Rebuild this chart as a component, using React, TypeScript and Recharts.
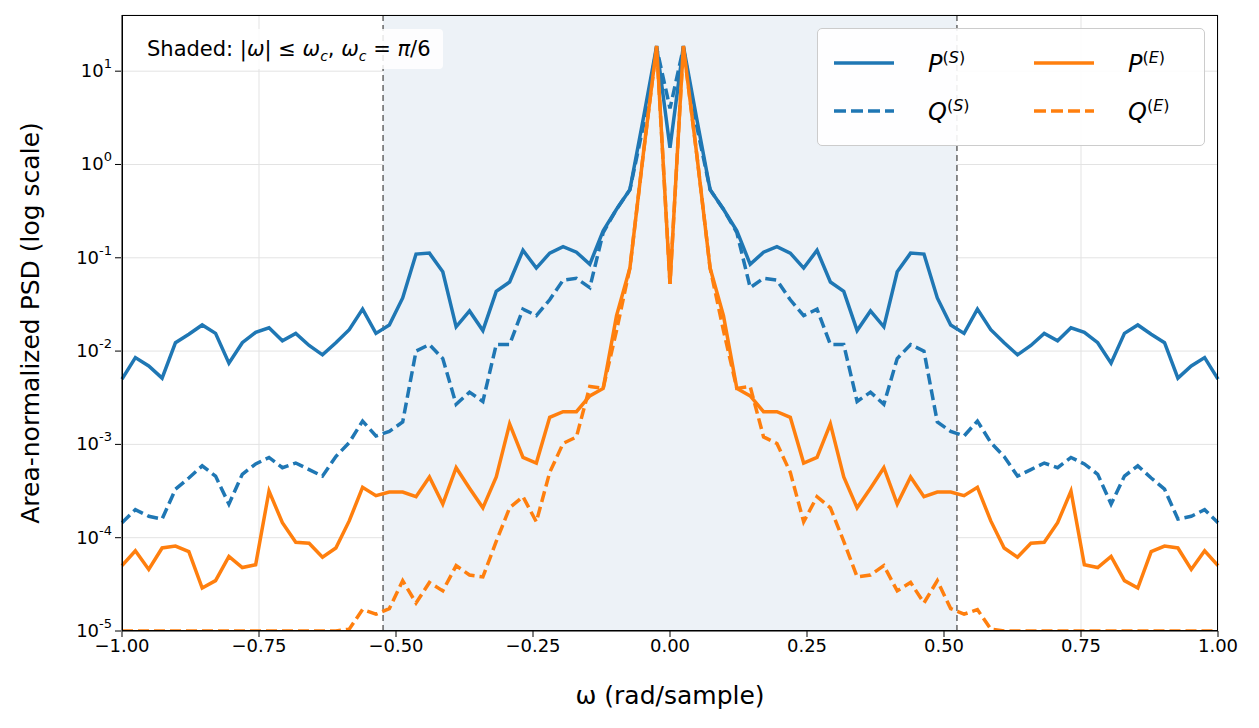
import React from "react";
import {
  LineChart,
  Line,
  XAxis,
  YAxis,
  CartesianGrid,
  ReferenceArea,
  ReferenceLine,
} from "recharts";

// log10 values, left half incl. centre (omega = -1 ... 0), spectrum is symmetric
const pS = [-2.3, -2.07, -2.16, -2.29, -1.91, -1.82, -1.72, -1.81, -2.13, -1.91, -1.8, -1.75, -1.89, -1.81, -1.94, -2.04, -1.91, -1.77, -1.55, -1.81, -1.72, -1.43, -0.96, -0.95, -1.15, -1.74, -1.57, -1.78, -1.36, -1.26, -0.92, -1.11, -0.95, -0.88, -0.94, -1.07, -0.71, -0.48, -0.27, 0.49, 1.27, 0.18];
const qS = [-3.84, -3.7, -3.77, -3.8, -3.48, -3.36, -3.23, -3.34, -3.64, -3.32, -3.21, -3.14, -3.25, -3.2, -3.27, -3.34, -3.13, -2.98, -2.75, -2.91, -2.86, -2.76, -2.0, -1.93, -2.08, -2.57, -2.44, -2.54, -1.93, -1.93, -1.55, -1.62, -1.45, -1.24, -1.22, -1.32, -0.73, -0.48, -0.27, 0.41, 1.25, 0.6];
const pE = [-4.3, -4.14, -4.34, -4.11, -4.09, -4.15, -4.54, -4.46, -4.2, -4.32, -4.29, -3.5, -3.84, -4.05, -4.06, -4.21, -4.11, -3.82, -3.46, -3.55, -3.51, -3.51, -3.56, -3.35, -3.64, -3.25, -3.47, -3.68, -3.35, -2.78, -3.14, -3.2, -2.71, -2.65, -2.65, -2.48, -2.4, -1.62, -1.11, 0.11, 1.27, -1.28];
const qE = [-5, -5, -5, -5, -5, -5, -5, -5, -5, -5, -5, -5, -5, -5, -5, -5, -5, -4.98, -4.77, -4.82, -4.76, -4.46, -4.7, -4.48, -4.57, -4.3, -4.4, -4.42, -4.04, -3.68, -3.56, -3.83, -3.3, -2.99, -2.92, -2.38, -2.4, -1.78, -1.11, 0.11, 1.27, -1.28];

const xTicks = [-1, -0.75, -0.5, -0.25, 0, 0.25, 0.5, 0.75, 1];
const yTicks = [1e-5, 1e-4, 1e-3, 1e-2, 1e-1, 1, 10];
const cutoff = 0.5236; // pi/6

const full = (a: number[]) => [...a, ...a.slice(0, -1).reverse()];
const N = 83;
const data = Array.from({ length: N }, (_, i) => ({
  w: -1 + (2 * i) / (N - 1),
  pS: 10 ** full(pS)[i],
  qS: 10 ** full(qS)[i],
  pE: 10 ** full(pE)[i],
  qE: 10 ** full(qE)[i],
}));

const BLUE = "#1f77b4";
const ORANGE = "#ff7f0e";
const FONT = "DejaVu Sans, sans-serif";

const YTick = ({ x, y, payload }: any) => {
  const e = Math.round(Math.log10(payload.value));
  return (
    <g>
      <line x1={x + 1} x2={x + 7} y1={y} y2={y} stroke="#000" />
      <text x={x - 2} y={y + 6} textAnchor="end" fontSize={18} fontFamily={FONT} fill="#000">
        10
        <tspan dy={-9} fontSize={13}>{e}</tspan>
      </text>
    </g>
  );
};

const fmtX = (v: number) => v.toFixed(2).replace("-", "\u2212");

const LegendItem = ({ color, dash, main, sup }: any) => (
  <div style={{ display: "flex", alignItems: "center", height: 44 }}>
    <svg width={60} height={10}>
      <line x1={0} x2={60} y1={5} y2={5} stroke={color} strokeWidth={3.5} strokeDasharray={dash ? "12 5" : undefined} />
    </svg>
    <span style={{ marginLeft: 34, fontSize: 24, fontFamily: FONT }}>
      <i>{main}</i>
      <sup style={{ fontSize: 16 }}>(<i>{sup}</i>)</sup>
    </span>
  </div>
);

export default function App() {
  return (
    <div style={{ position: "relative", width: 1259, height: 728, margin: -8, background: "#fff", fontFamily: FONT }}>
      <LineChart width={1259} height={728} data={data} margin={{ top: 15, right: 41, left: 0, bottom: 0 }}>
        <CartesianGrid stroke="#e3e3e3" strokeWidth={1} />
        <ReferenceArea x1={-cutoff} x2={cutoff} fill="#edf2f7" fillOpacity={1} stroke="none" />
        <XAxis
          dataKey="w"
          type="number"
          domain={[-1, 1]}
          ticks={xTicks}
          tickFormatter={fmtX}
          height={97}
          tick={{ fontSize: 18, fill: "#000", fontFamily: FONT }}
          tickSize={6}
          stroke="#000"
          label={{ value: "\u03c9 (rad/sample)", position: "insideBottom", offset: 24, fontSize: 25, fill: "#000", fontFamily: FONT }}
        />
        <YAxis
          scale="log"
          domain={[1e-5, 40]}
          ticks={yTicks}
          allowDataOverflow
          width={122}
          tick={<YTick />}
          tickLine={false}
          stroke="#000"
        />
        <ReferenceLine x={-cutoff} stroke="#666" strokeDasharray="6 4" strokeWidth={1.5} />
        <ReferenceLine x={cutoff} stroke="#666" strokeDasharray="6 4" strokeWidth={1.5} />
        <Line dataKey="qS" stroke={BLUE} strokeWidth={3.5} strokeDasharray="11 5" dot={false} isAnimationActive={false} />
        <Line dataKey="qE" stroke={ORANGE} strokeWidth={3.5} strokeDasharray="11 5" dot={false} isAnimationActive={false} />
        <Line dataKey="pS" stroke={BLUE} strokeWidth={3.5} dot={false} isAnimationActive={false} />
        <Line dataKey="pE" stroke={ORANGE} strokeWidth={3.5} dot={false} isAnimationActive={false} />
      </LineChart>
      <div style={{ position: "absolute", left: 30, top: 323, transform: "translate(-50%, -50%) rotate(-90deg)", fontSize: 25, whiteSpace: "nowrap" }}>
        Area-normalized PSD (log scale)
      </div>
      <div style={{ position: "absolute", left: 122, top: 15, width: 1096, height: 616, border: "1.3px solid #000", boxSizing: "border-box", pointerEvents: "none" }} />
      <div style={{ position: "absolute", left: 135, top: 29, height: 40, padding: "0 12px", background: "rgba(255,255,255,0.85)", borderRadius: 4, fontSize: 21, lineHeight: "40px", whiteSpace: "nowrap" }}>
        Shaded: |<i>ω</i>| ≤ <i>ω</i><sub style={{ fontSize: 14 }}><i>c</i></sub>, <i>ω</i><sub style={{ fontSize: 14 }}><i>c</i></sub> = <i>π</i>/6
      </div>
      <div style={{ position: "absolute", left: 817, top: 28, width: 388, height: 118, background: "rgba(255,255,255,0.9)", border: "1px solid #ccc", borderRadius: 5, boxSizing: "border-box", padding: "12px 16px", display: "grid", gridTemplateColumns: "200px 170px", rowGap: 4 }}>
        <LegendItem color={BLUE} main="P" sup="S" />
        <LegendItem color={ORANGE} main="P" sup="E" />
        <LegendItem color={BLUE} dash main="Q" sup="S" />
        <LegendItem color={ORANGE} dash main="Q" sup="E" />
      </div>
    </div>
  );
}
